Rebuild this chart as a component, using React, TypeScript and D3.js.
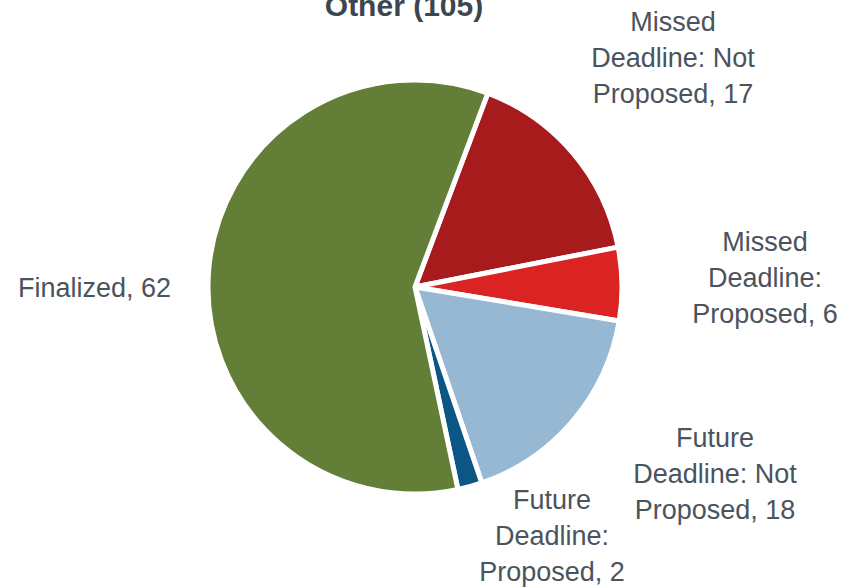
import React from "react";
import * as d3 from "d3";

const categories = [
  "Missed Deadline: Not Proposed",
  "Missed Deadline: Proposed",
  "Future Deadline: Not Proposed",
  "Future Deadline: Proposed",
  "Finalized",
];
const values = [17, 6, 18, 2, 62];
const colors = ["#a81b1d", "#dc2323", "#97b8d3", "#0b5685", "#627e37"];
const labelLines = [
  ["Missed", "Deadline: Not", "Proposed, 17"],
  ["Missed", "Deadline:", "Proposed, 6"],
  ["Future", "Deadline: Not", "Proposed, 18"],
  ["Future", "Deadline:", "Proposed, 2"],
  ["Finalized, 62"],
];
const title = "Other (105)";

// label layout (positions of text blocks: center x, first line center y, anchor)
const labelLayout = [
  { x: 673, y: 22, anchor: "middle" },
  { x: 765, y: 242, anchor: "middle" },
  { x: 715, y: 438, anchor: "middle" },
  { x: 552, y: 500, anchor: "middle" },
  { x: 18, y: 288, anchor: "start" },
];

export default function App() {
  const W = 863, H = 587;
  const cx = 415, cy = 287, r = 207;
  const total = d3.sum(values);
  const startAngle = (20.6 * Math.PI) / 180;
  const pie = d3
    .pie<number>()
    .sort(null)
    .startAngle(startAngle)
    .endAngle(startAngle + 2 * Math.PI)
    .value((d) => d);
  const arcs = pie(values);
  const arc = d3.arc<d3.PieArcDatum<number>>().innerRadius(0).outerRadius(r);
  const font = "'Liberation Sans', Arial, sans-serif";
  return (
    <svg
      width={W}
      height={H}
      style={{ position: "absolute", left: 0, top: 0, background: "#fff" }}
    >
      <text
        x={404}
        y={16}
        textAnchor="middle"
        fontFamily={font}
        fontWeight="bold"
        fontSize={30}
        fill="#3d4650"
      >
        {title.replace("105", String(total))}
      </text>
      <g transform={`translate(${cx},${cy})`}>
        {arcs.map((a, i) => (
          <path
            key={categories[i]}
            d={arc(a) || ""}
            fill={colors[i]}
            stroke="#fff"
            strokeWidth={5}
            strokeLinejoin="round"
          />
        ))}
      </g>
      {labelLines.map((lines, i) => (
        <text
          key={categories[i]}
          x={labelLayout[i].x}
          y={labelLayout[i].y}
          textAnchor={labelLayout[i].anchor as any}
          fontFamily={font}
          fontSize={27}
          fill="#4b535d"
          dominantBaseline="central"
        >
          {lines.map((l, j) => (
            <tspan key={j} x={labelLayout[i].x} y={labelLayout[i].y + j * 36}>
              {l}
            </tspan>
          ))}
        </text>
      ))}
    </svg>
  );
}
